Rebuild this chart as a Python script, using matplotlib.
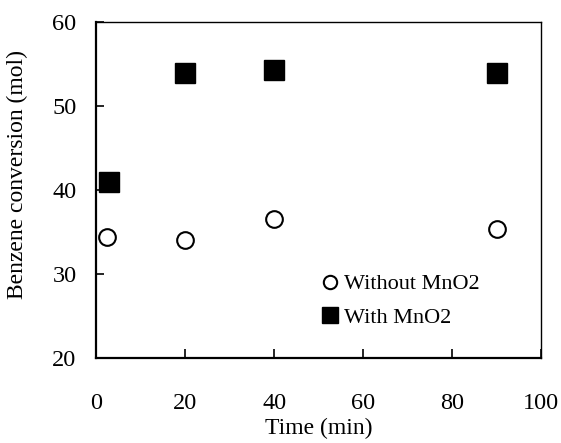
import matplotlib.pyplot as plt

plt.rcParams["font.family"] = ["Liberation Serif", "DejaVu Serif"]

# data
time_without = [2.5, 20, 40, 90]
conv_without = [34.4, 34.0, 36.6, 35.4]
time_with = [3, 20, 40, 90]
conv_with = [41.0, 54.0, 54.3, 54.0]

fig = plt.figure(figsize=(5.61, 4.43), dpi=100)
ax = fig.add_axes([0.171, 0.192, 0.794, 0.758])

ax.plot(time_without, conv_without, linestyle="none", marker="o", markersize=12,
        markerfacecolor="white", markeredgecolor="black", markeredgewidth=1.5,
        label="Without MnO2", clip_on=False)
ax.plot(time_with, conv_with, linestyle="none", marker="s", markersize=14,
        markerfacecolor="black", markeredgecolor="black",
        label="With MnO2", clip_on=False)

ax.set_xlim(0, 100)
ax.set_ylim(20, 60)
ax.set_xticks([0, 20, 40, 60, 80, 100])
ax.set_yticks([20, 30, 40, 50, 60])

for side in ["left", "bottom"]:
    ax.spines[side].set_linewidth(1.6)
for side in ["right", "top"]:
    ax.spines[side].set_linewidth(1.0)

ax.tick_params(axis="x", direction="in", length=6.5, width=1.2, pad=25, labelsize=17.5)
ax.tick_params(axis="y", direction="in", length=6, width=1.2, pad=14, labelsize=17.5)

ax.set_xlabel("Time (min)", fontsize=17, labelpad=3)
ax.set_ylabel("Benzene conversion (mol)", fontsize=17)
ax.yaxis.set_label_coords(-0.153, 0.545)

leg = ax.legend(loc="upper left", bbox_to_anchor=(0.49, 0.277), frameon=False,
                fontsize=16, handlelength=0.6, handletextpad=0.36,
                labelspacing=0.6, borderaxespad=0, markerscale=0.8)

plt.savefig("out.png", dpi=100)
